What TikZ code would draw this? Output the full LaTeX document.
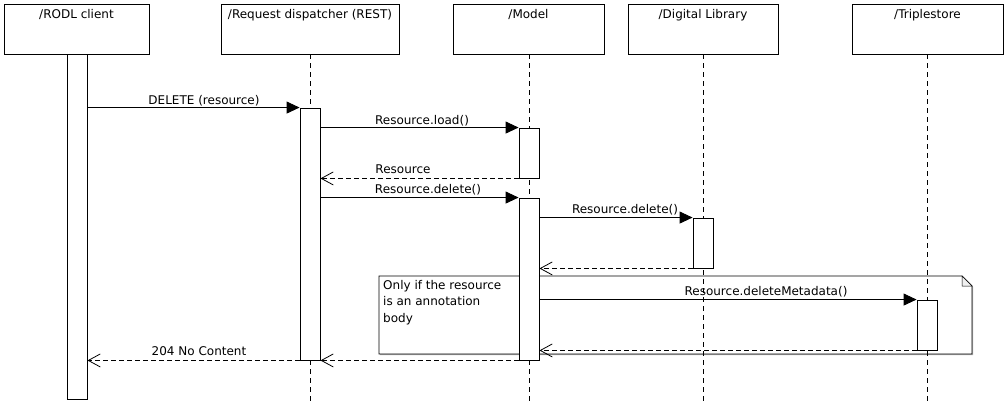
\documentclass[tikz,border=0pt]{standalone}
\usepackage{fontspec}
\setmainfont{DejaVu Sans}
\usetikzlibrary{arrows.meta,shadows}
\begin{document}
\begin{tikzpicture}[x=1pt,y=-1pt,
  every node/.style={font=\fontsize{12}{16.5}\selectfont},
  shad/.style={drop shadow={shadow xshift=1.2pt,shadow yshift=-1.2pt,fill=black,opacity=0.3}},
  hdr/.style={draw,line width=0.9pt,fill=white,minimum height=50pt,inner sep=0pt,shad},
  act/.style={draw,line width=0.9pt,fill=white,minimum width=20pt,inner sep=0pt,shad},
  life/.style={line width=0.9pt,dash pattern=on 5pt off 4pt},
  msg/.style={line width=0.9pt,-{Triangle[length=13pt,width=12pt]}},
  ret/.style={line width=0.9pt,dash pattern=on 5pt off 3pt,-{Straight Barb[length=12pt,width=13pt,line width=0.8pt]}},
  lbl/.style={anchor=base,inner sep=0pt},
  ]
\useasboundingbox (0,0) rectangle (1006,404);
% header boxes
\node[hdr,minimum width=145pt] (rodl) at (76.5,29) {};
\node[hdr,minimum width=178pt] (disp) at (310,29) {};
\node[hdr,minimum width=151pt] (model) at (528.5,29) {};
\node[hdr,minimum width=150pt] (dl) at (703,29) {};
\node[hdr,minimum width=151pt] (ts) at (927.5,29) {};
\node[lbl] (rodl-t) at (76.5,18.5) {/RODL client};
\node[lbl] (disp-t) at (310,18.5) {/Request dispatcher (REST)};
\node[lbl] (model-t) at (528.5,18.5) {/Model};
\node[lbl] (dl-t) at (703,18.5) {/Digital Library};
\node[lbl] (ts-t) at (927.5,18.5) {/Triplestore};
% note
\path[draw,line width=0.9pt,fill=white,shad] (379,276) -- (962,276) -- (972,286) -- (972,354) -- (379,354) -- cycle;
\draw[line width=0.5pt,fill=black!6] (962,276) -- (962,286) -- (972,286) -- cycle;
\node[anchor=north west,align=left,inner sep=0pt] (note-t) at (383,280) {Only if the resource\\is an annotation\\body};
% lifelines
\coordinate (disp-end) at (310,404);
\coordinate (model-end) at (529,404);
\coordinate (dl-end) at (703,404);
\coordinate (ts-end) at (927,404);
\draw[life] (disp.south) -- (disp-end);
\draw[life] (model.south -| model-end) -- (model-end);
\draw[life] (dl.south) -- (dl-end);
\draw[life] (ts.south -| ts-end) -- (ts-end);
% activations
\node[act,minimum height=345pt] (rodlA) at (77,226.5) {};
\node[act,minimum height=252pt] (dispA) at (310,234) {};
\node[act,minimum height=50pt] (modA1) at (529,153) {};
\node[act,minimum height=162pt] (modA2) at (529,279) {};
\node[act,minimum height=50pt] (dlA) at (703,243) {};
\node[act,minimum height=50pt] (tsA) at (927,325) {};
% messages
\draw[msg] (rodlA.east |- dispA.north) -- (dispA.north west);
\node[lbl] (m1) at (204,104) {DELETE (resource)};
\draw[msg] (dispA.east |- modA1.north) -- (modA1.north west);
\node[lbl] (m2) at (422,124) {Resource.load()};
\draw[ret] (modA1.south west) -- (dispA.east |- modA1.south);
\node[lbl] (m3) at (403,173.5) {Resource};
\draw[msg] (dispA.east |- modA2.north) -- (modA2.north west);
\node[lbl] (m4) at (428,193.5) {Resource.delete()};
\draw[msg] (modA2.east |- dlA.north) -- (dlA.north west);
\node[lbl] (m5) at (625,213.5) {Resource.delete()};
\draw[ret] (dlA.south west) -- (modA2.east |- dlA.south);
\draw[msg] (modA2.east |- tsA.north) -- (tsA.north west);
\node[lbl] (m6) at (766,295.5) {Resource.deleteMetadata()};
\draw[ret] (tsA.south west) -- (modA2.east |- tsA.south);
\draw[ret] (modA2.south west) -- (dispA.east |- modA2.south);
\draw[ret] (dispA.south west) -- (rodlA.east |- dispA.south);
\node[lbl] (m7) at (199,355.5) {204 No Content};
\end{tikzpicture}
\end{document}
